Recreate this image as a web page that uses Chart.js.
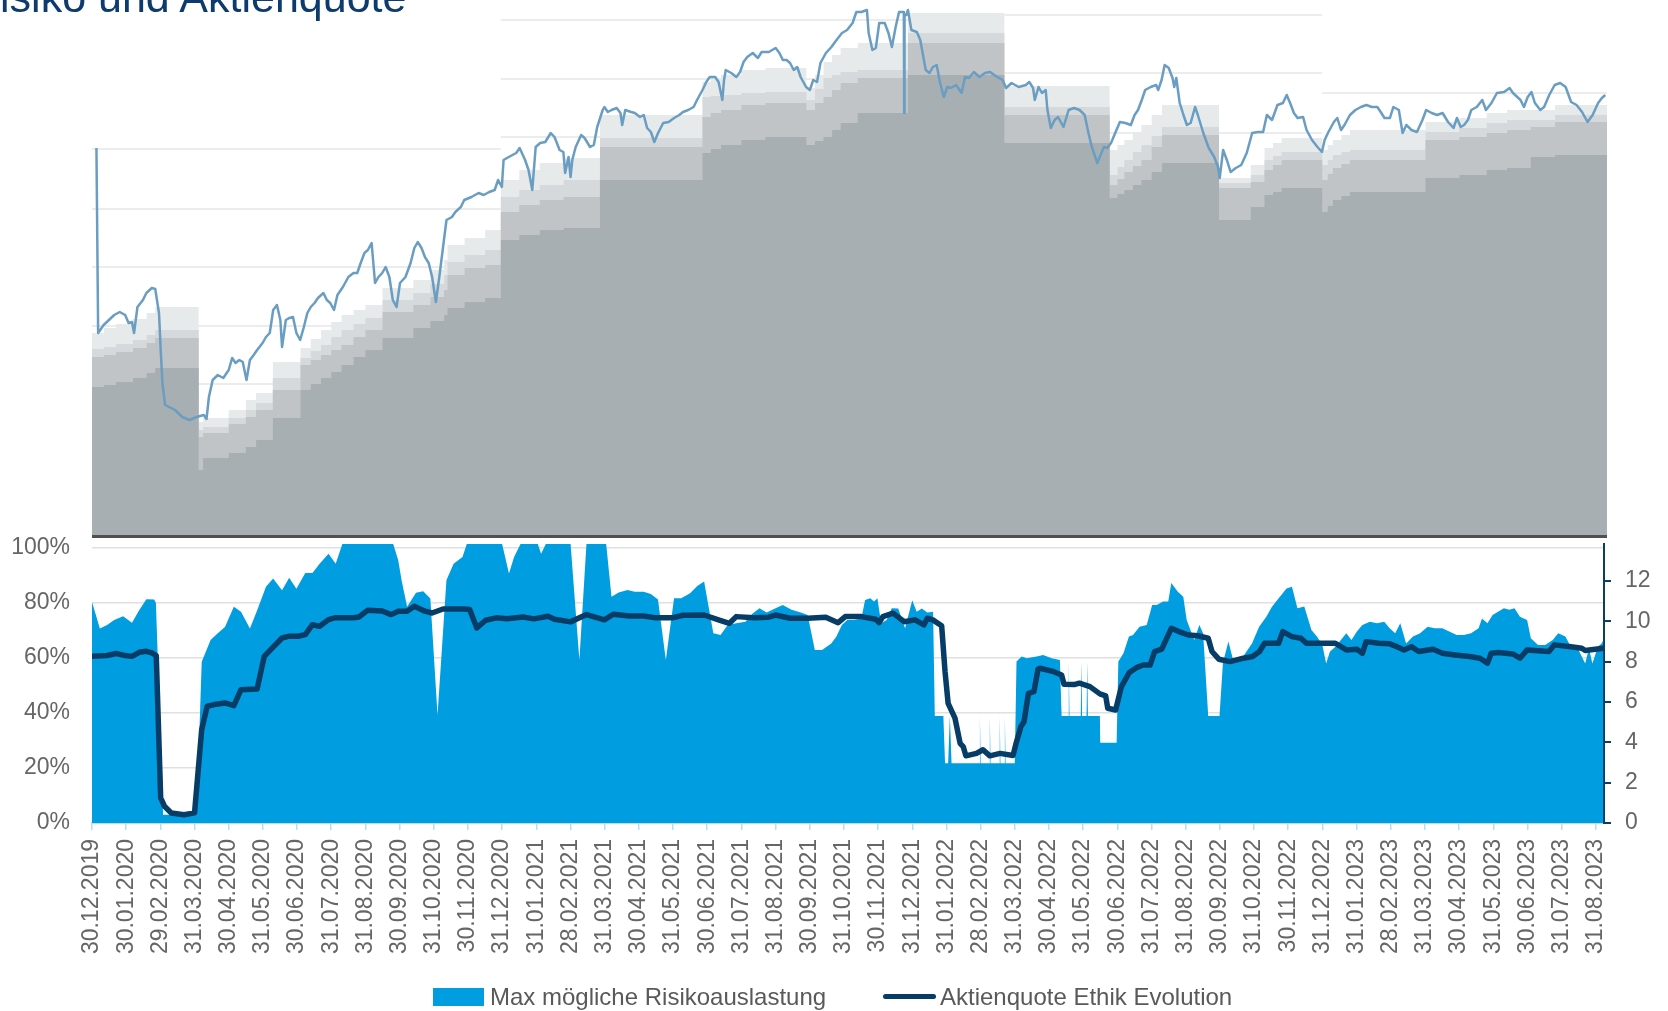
<!DOCTYPE html>
<html lang="de">
<head>
  <meta charset="UTF-8">
  <title>Risiko und Aktienquote</title>
  <style>
    body {
      margin: 0;
      background: #fff;
      font-family: 'Liberation Sans', Arial, sans-serif;
    }
    #wrap {
      position: relative;
      width: 1668px;
      height: 1011px;
      overflow: hidden;
    }
    #title {
      position: absolute;
      left: -31px;
      top: -24px;
      font-size: 43px;
      line-height: 43px;
      color: #0d3b6e;
      white-space: nowrap;
      z-index: 3;
    }
    #topBox {
      position: absolute;
      left: 92px;
      top: 0;
      width: 1515px;
      height: 537px;
    }
    #baseLine {
      position: absolute;
      left: 92px;
      top: 535px;
      width: 1515px;
      height: 3px;
      background: #505050;
    }
    #botBox {
      position: absolute;
      left: 0;
      top: 520px;
      width: 1668px;
      height: 491px;
    }
    .lg {
      position: absolute;
      font-size: 24px;
      line-height: 24px;
      color: #595959;
      white-space: nowrap;
    }
  </style>
  <script src="https://cdn.jsdelivr.net/npm/chart.js@4.4.1/dist/chart.umd.min.js"></script>
</head>
<body>
<div id="wrap">
  <div id="title">Risiko und Aktienquote</div>
  <div id="topBox"><canvas id="topChart"></canvas></div>
  <div id="baseLine"></div>
  <div id="botBox"><canvas id="botChart"></canvas></div>
  <div style="position:absolute;left:433px;top:988px;width:51px;height:18px;background:#009ee0"></div>
  <div class="lg" style="left:490px;top:985px">Max mögliche Risikoauslastung</div>
  <div style="position:absolute;left:883px;top:994px;width:53px;height:5px;border-radius:3px;background:#063c66"></div>
  <div class="lg" style="left:940px;top:985px">Aktienquote Ethik Evolution</div>
</div>

<script>
  // x values are months since 30.12.2019 (fractional = within the month)
  const monthLabels = ['30.12.2019','30.01.2020','29.02.2020','31.03.2020','30.04.2020','31.05.2020',
    '30.06.2020','31.07.2020','31.08.2020','30.09.2020','31.10.2020','30.11.2020','31.12.2020',
    '31.01.2021','28.02.2021','31.03.2021','30.04.2021','31.05.2021','30.06.2021','31.07.2021',
    '31.08.2021','30.09.2021','31.10.2021','30.11.2021','31.12.2021','31.01.2022','28.02.2022',
    '31.03.2022','30.04.2022','31.05.2022','30.06.2022','31.07.2022','31.08.2022','30.09.2022',
    '31.10.2022','30.11.2022','31.12.2022','31.01.2023','28.02.2023','31.03.2023','30.04.2023',
    '31.05.2023','30.06.2023','31.07.2023','31.08.2023'];

  // top panel: fund value (index units, no axis shown)
  const indexLine = [
    [0.13,389],[0.18,204],[0.34,212],[0.65,222],[0.81,225],[0.97,222],[1.07,214],[1.17,215],[1.23,204],
    [1.33,230],[1.49,237],[1.59,244],[1.75,249],[1.85,248],[1.96,224],[2.01,187],[2.06,154],[2.14,132],
    [2.43,127],[2.64,120],[2.85,117],[3.06,120],[3.27,122],[3.35,118],[3.42,140],[3.53,157],[3.68,162],
    [3.84,159],[4.00,167],[4.10,179],[4.20,174],[4.31,177],[4.41,175],[4.52,157],[4.62,177],[4.73,182],
    [4.83,187],[4.99,194],[5.09,200],[5.20,204],[5.30,227],[5.41,232],[5.51,217],[5.56,190],[5.67,217],
    [5.77,219],[5.88,220],[5.98,204],[6.09,197],[6.19,209],[6.30,224],[6.40,230],[6.51,234],[6.61,239],
    [6.77,244],[6.87,237],[6.97,234],[7.08,227],[7.18,242],[7.34,250],[7.50,260],[7.65,264],[7.76,264],
    [7.86,274],[7.97,284],[8.07,287],[8.18,294],[8.23,274],[8.28,254],[8.38,260],[8.49,264],[8.59,270],
    [8.70,260],[8.80,237],[8.91,230],[9.01,254],[9.17,260],[9.32,274],[9.43,289],[9.53,295],[9.64,289],
    [9.74,280],[9.85,274],[9.95,260],[10.06,235],[10.16,260],[10.27,290],[10.37,317],[10.53,320],
    [10.63,325],[10.79,330],[10.89,337],[11.10,340],[11.31,344],[11.46,342],[11.62,345],[11.78,347],
    [11.88,357],[11.99,350],[12.04,377],[12.14,379],[12.30,382],[12.41,384],[12.51,389],[12.67,377],
    [12.77,367],[12.88,347],[12.98,390],
    [13.11,394],[13.26,395],[13.42,404],[13.53,400],[13.68,387],[13.79,385],[13.84,364],[13.94,380],
    [14.00,360],[14.05,377],[14.15,390],[14.31,402],[14.41,399],[14.57,390],[14.68,392],[14.78,410],
    [14.94,427],[14.99,430],[15.09,425],[15.20,427],[15.35,429],[15.46,424],[15.51,412],[15.60,427],
    [15.77,425],[15.88,424],[16.03,420],[16.14,422],[16.24,409],[16.35,405],[16.45,395],[16.56,404],
    [16.71,414],[16.87,415],[17.03,419],[17.18,422],[17.29,425],[17.44,427],[17.60,430],[17.70,437],
    [17.86,447],[17.97,455],[18.07,460],[18.23,460],[18.33,455],[18.44,437],[18.49,457],[18.54,467],
    [18.70,464],[18.85,460],[18.96,465],[19.06,475],[19.17,480],[19.33,484],[19.48,479],[19.59,485],
    [19.80,485],[20.00,489],[20.11,484],[20.21,477],[20.32,477],[20.42,474],[20.53,467],[20.63,470],
    [20.73,460],[20.89,450],[21.00,447],[21.10,457],[21.21,455],[21.31,474],[21.47,484],[21.63,490],
    [21.78,497],[21.94,504],[22.09,507],[22.25,514],[22.36,525],[22.51,525],[22.67,527],[22.72,504],
    [22.83,487],[22.93,489],[23.03,514],[23.19,514],[23.30,504],[23.40,490],[23.51,510],[23.61,525],
    [23.71,525],[23.75,525],[23.76,424],[23.77,522],[23.82,522],[23.87,527],[23.97,507],[24.13,505],
    [24.23,497],[24.39,467],[24.50,464],[24.60,470],[24.71,472],[24.81,454],[24.92,440],[25.02,450],
    [25.12,449],[25.28,452],[25.44,444],[25.54,460],[25.65,459],[25.80,465],[25.96,460],[26.12,464],
    [26.27,465],[26.48,460],[26.64,457],[26.74,449],[26.90,454],[27.11,450],[27.32,452],[27.42,455],
    [27.53,449],[27.58,437],[27.69,450],[27.79,444],[27.90,447],[27.95,427],[28.05,409],[28.16,417],
    [28.26,420],[28.42,410],[28.57,427],[28.73,429],[28.89,427],[29.04,422],[29.15,404],[29.25,390],
    [29.41,374],
    [29.60,390],[29.70,389],[29.81,394],[29.97,407],[30.07,415],[30.23,414],[30.39,412],[30.50,422],
    [30.60,427],[30.71,437],[30.81,447],[30.97,450],[31.13,452],[31.19,447],[31.29,457],[31.38,472],
    [31.50,469],[31.61,459],[31.66,450],[31.72,459],[31.82,434],[31.93,422],[32.03,412],[32.14,414],
    [32.27,430],[32.35,422],[32.51,404],[32.67,389],[32.83,380],[32.94,370],[32.99,359],[33.09,387],
    [33.20,377],[33.31,365],[33.46,369],[33.62,372],[33.78,384],[33.94,404],[34.10,405],[34.26,405],
    [34.37,422],[34.52,417],[34.68,432],[34.84,434],[34.95,442],[35.05,434],[35.16,424],[35.27,419],
    [35.43,420],[35.53,407],[35.69,397],[35.85,390],[35.98,385],[36.06,397],[36.17,405],[36.33,415],
    [36.43,419],[36.54,407],[36.64,412],[36.80,422],[36.96,427],[37.12,430],[37.28,432],[37.44,430],
    [37.60,430],[37.70,425],[37.81,419],[37.97,419],[38.07,430],[38.23,427],[38.34,404],[38.45,412],
    [38.60,407],[38.76,405],[38.92,417],[39.03,427],[39.19,424],[39.35,422],[39.51,424],[39.67,415],
    [39.83,409],[39.93,419],[40.04,410],[40.14,412],[40.25,417],[40.35,427],[40.51,430],[40.67,437],
    [40.78,427],[40.94,434],[41.10,444],[41.31,445],[41.47,449],[41.57,444],[41.79,437],[41.89,430],
    [42.00,440],[42.11,445],[42.21,434],[42.37,427],[42.48,430],[42.63,442],[42.79,452],[42.95,454],
    [43.11,450],[43.27,435],[43.43,432],[43.59,425],[43.75,415],[43.90,422],[44.06,434],[44.17,439],
    [44.27,442]
  ];

  // stepped risk bands (value holds until the next step)
  const bandT = [0,0.35,0.7,1.2,1.6,1.85, 3.12,3.25,4.0,4.5,4.8,5.29, 6.1,6.4,6.7,7.0,7.3,7.65,8.0,8.5,9.4,9.9,10.3,10.4,10.9,11.5,
    11.96,12.5,13.1,13.8, 14.86, 17.86,18.1,18.4,19.0,19.7, 20.9,21.15,21.4,21.65,21.9,22.4, 23.87, 26.69,
    29.77,30.0,30.2,30.45,30.7,31.0,31.3, 32.97,33.9,34.3,34.55,34.8, 35.99,36.15,36.3,36.55,36.8, 39.01,40.0,40.8,41.4, 42.09,42.8,44.32];
  const bandOuter = [204,209,213,218,224,230, 115,119,127,137,144,175, 189,198,207,215,222,227,232,249,257,267,277,292,299,307,
    357,367,374,379, 422, 455,458,462,467,469, 449,462,475,482,489,494, 524, 451,
    387,392,397,405,412,422,432, 359,372,389,394,399, 387,392,397,402,407, 415,419,424,427, 427,432,432];
  const bandLight = [188,190,193,197,202,207, 107,110,119,127,134,159, 179,186,192,200,207,213,219,237,244,253,262,275,282,287,
    340,347,352,357, 399, 440,441,442,444,445, 437,448,459,462,465,467, 504, 430,
    362,370,377,385,392,401,410, 354,362,377,381,385, 372,377,382,385,387, 405,409,414,417, 417,422,422];
  const bandMid = [180,182,185,189,194,199, 100,104,113,120,127,147, 172,177,182,187,192,200,207,225,232,240,247,262,269,272,
    325,332,337,340, 390, 420,424,427,432,434, 427,434,440,447,454,459, 494, 422,
    352,358,365,371,377,390,402, 349,355,367,372,377, 357,363,369,373,377, 397,400,404,407, 410,415,415];
  const bandCore = [150,152,155,159,164,169, 67,79,84,90,97,119, 147,153,159,165,172,180,187,199,209,216,222,229,235,239,
    297,302,307,309, 357, 384,388,392,397,400, 392,396,400,407,414,424, 462, 394,
    339,343,347,352,357,365,374, 317,330,342,345,349, 325,331,337,341,345, 359,362,367,369, 380,382,382];

  // top panel gridlines, one set per yearly section
  const gridFrom = [0, 11.96, 26.69, 35.99];
  const gridTo = [11.96, 26.69, 35.99, 44.32];
  const gridLevels = [[388,328,270,211,153], [517,458,400], [522,464,404], [444]];

  // bottom panel: max possible risk usage in %
  const riskArea = [
    [0,80.4],[0.23,70.7],[0.44,72],[0.65,73.8],[0.91,75.2],[1.17,72.8],[1.38,77.4],[1.59,81.4],[1.82,81.3],
    [1.87,80],[2.08,3],[3.06,3],[3.21,58.6],[3.47,66.5],[3.68,69],[3.89,71.3],[4.15,78.6],[4.36,76.8],
    [4.62,70.7],[4.83,77.3],[5.09,85.9],[5.30,88.9],[5.56,84.6],[5.77,89.2],[5.98,85.2],[6.24,90.9],
    [6.45,90.9],[6.66,94.3],[6.92,97.9],[7.13,94.3],[7.34,102],[8.80,102],[8.96,95.5],[9.06,88.2],
    [9.22,78.6],[9.48,83.7],[9.69,84.3],[9.90,81.6],[10.11,39.3],[10.37,88.3],[10.58,94.3],[10.84,96.7],
    [10.98,102],[11.99,102],[12.20,90.7],[12.35,96.7],[12.56,102],[13.03,102],[13.14,97.9],[13.30,102],
    [14.00,102],[14.26,59.3],[14.47,102],[15.04,102],[15.20,82.3],[15.41,83.8],[15.67,84.7],[15.88,84.1],
    [16.14,84.1],[16.35,83.3],[16.56,81.3],[16.79,59.3],[17.03,81.7],[17.24,81.7],[17.50,83.5],[17.71,86.2],
    [17.91,87.8],[18.18,69],[18.39,68.4],[18.60,72],[18.85,72.6],[19.12,73.2],[19.33,76.2],[19.53,78.1],
    [19.74,76.5],[20.00,78.1],[20.21,79.3],[20.47,77.5],[20.74,76.5],[20.94,75.6],[21.15,62.9],[21.36,62.9],
    [21.63,65.3],[21.78,67.8],[21.94,72],[22.10,73.8],[22.30,73.8],[22.51,74.4],[22.62,81.1],[22.77,81.7],
    [22.88,80.5],[22.98,81.7],[23.09,72.6],[23.25,73.8],[23.40,78.1],[23.59,78],[23.79,70.8],[24.00,81],
    [24.13,76.8],[24.28,78],[24.44,76.5],[24.61,76.8],[24.66,38.9],[24.91,38.9],[24.96,21.7],[25.05,21.7],
    [25.10,38.9],[25.15,21.7],[25.96,21.7],[25.98,38.9],[26.00,21.7],[26.25,21.7],[26.27,38.9],[26.29,21.7],
    [26.54,21.7],[26.56,38.9],[26.58,21.7],[26.69,21.7],[26.71,38.9],[26.73,21.7],[27.00,21.7],[27.05,58.7],
    [27.20,60.5],[27.35,59.9],[27.64,60.5],[27.83,61.1],[28.08,59.9],[28.32,59.3],[28.37,38.9],[28.56,38.9],
    [28.58,58.7],[28.60,38.9],[28.93,38.9],[28.95,58.7],[28.97,38.9],[29.10,38.9],[29.12,58.7],[29.14,38.9],
    [29.49,38.9],[29.50,29.2],[29.98,29.2],[30.03,58.7],[30.18,61.7],[30.34,67.8],[30.46,68.4],[30.65,71.4],
    [30.86,72],[31.02,79.3],[31.15,79.3],[31.34,80.5],[31.49,80.5],[31.58,87.3],[31.77,84.1],[31.93,82.3],
    [32.03,73.8],[32.25,66.5],[32.40,72],[32.51,69],[32.66,38.9],[32.99,38.9],[33.09,58.3],[33.25,66],
    [33.40,58.7],[33.68,60.5],[33.94,65.3],[34.15,71.4],[34.36,75],[34.52,78.5],[34.68,81.1],[34.84,83.5],
    [34.95,85.3],[35.11,85.9],[35.27,78.1],[35.47,78.7],[35.68,70.2],[35.84,67.8],[36.00,64.7],[36.11,58],
    [36.22,62.3],[36.38,64.1],[36.54,66.5],[36.70,69],[36.85,66.5],[37.01,69.6],[37.17,72],[37.39,73.2],
    [37.60,72.6],[37.81,73.2],[37.97,70.8],[38.13,69],[38.28,72.6],[38.45,65.3],[38.65,67.8],[38.86,69],
    [39.08,71.4],[39.29,70.8],[39.51,70.8],[39.71,69.6],[39.93,68.4],[40.14,68.4],[40.35,69],[40.57,70.8],
    [40.67,74.4],[40.83,72.6],[40.98,75.6],[41.14,76.8],[41.31,78.1],[41.47,77.5],[41.62,78.1],[41.78,75],
    [41.99,73.8],[42.10,67.2],[42.31,64.7],[42.52,64.7],[42.74,66.5],[42.90,69],[43.11,67.8],[43.27,64.1],
    [43.47,63.5],[43.69,58],[43.80,63.5],[43.90,58],[44.06,64.1],[44.17,65.3],[44.22,66.5]
  ];

  // bottom panel: equity quota (right axis)
  const quoteLine = [
    [0,8.26],[0.44,8.3],[0.71,8.4],[0.97,8.3],[1.17,8.26],[1.38,8.46],[1.59,8.51],[1.75,8.43],[1.88,8.3],
    [2.01,1.24],[2.12,0.83],[2.32,0.5],[2.69,0.41],[3.00,0.5],[3.21,4.63],[3.37,5.79],[3.58,5.87],[3.89,5.95],
    [4.15,5.82],[4.36,6.61],[4.83,6.64],[5.04,8.26],[5.25,8.63],[5.56,9.17],[5.77,9.26],[6.03,9.26],
    [6.24,9.34],[6.45,9.83],[6.66,9.75],[6.92,10.08],[7.13,10.18],[7.65,10.17],[7.81,10.21],[8.07,10.55],
    [8.49,10.51],[8.75,10.33],[8.96,10.5],[9.22,10.5],[9.43,10.74],[9.74,10.5],[9.95,10.41],[10.27,10.61],
    [10.89,10.61],[11.05,10.58],[11.26,9.67],[11.52,10.05],[11.83,10.17],[12.14,10.12],[12.61,10.21],
    [12.93,10.12],[13.34,10.25],[13.53,10.1],[14.0,9.97],[14.47,10.33],[14.99,10.07],[15.25,10.35],
    [15.72,10.26],[16.14,10.26],[16.45,10.18],[16.98,10.17],[17.29,10.3],[17.91,10.31],[18.33,10.07],
    [18.65,9.9],[18.85,10.23],[19.38,10.18],[19.8,10.2],[20.0,10.31],[20.42,10.15],[20.94,10.15],
    [21.47,10.2],[21.83,9.93],[22.04,10.23],[22.51,10.23],[22.93,10.1],[23.03,9.93],[23.14,10.23],
    [23.44,10.4],[23.76,9.98],[24.08,10.07],[24.34,9.82],[24.44,10.15],[24.6,10.07],[24.86,9.78],
    [24.96,7.5],[25.05,5.93],[25.25,5.2],[25.40,3.95],[25.49,3.79],[25.57,3.33],[25.88,3.45],[26.07,3.63],
    [26.27,3.33],[26.57,3.45],[26.95,3.35],[27.03,3.9],[27.18,4.78],[27.27,5.02],[27.40,6.43],[27.56,6.51],
    [27.68,7.62],[27.74,7.67],[28.14,7.5],[28.37,7.34],[28.44,6.88],[28.74,6.86],[28.89,6.93],[29.2,6.76],
    [29.49,6.4],[29.66,6.3],[29.72,5.69],[29.95,5.6],[30.12,6.76],[30.35,7.46],[30.56,7.7],[30.76,7.83],
    [30.96,7.83],[31.09,8.5],[31.3,8.62],[31.42,9.07],[31.58,9.65],[31.8,9.49],[32.08,9.32],[32.35,9.28],
    [32.66,9.16],[32.77,8.5],[32.97,8.12],[33.3,8.0],[33.69,8.17],[33.96,8.25],[34.16,8.5],[34.31,8.91],
    [34.72,8.91],[34.84,9.49],[35.11,9.24],[35.37,9.16],[35.53,8.91],[35.84,8.91],[36.38,8.91],[36.70,8.58],
    [37.01,8.61],[37.17,8.41],[37.28,8.99],[37.65,8.91],[37.97,8.88],[38.18,8.74],[38.39,8.58],[38.6,8.74],
    [38.82,8.5],[39.24,8.61],[39.51,8.41],[39.88,8.33],[40.3,8.25],[40.61,8.17],[40.83,7.92],[40.94,8.41],
    [41.14,8.45],[41.57,8.38],[41.78,8.17],[41.99,8.58],[42.2,8.55],[42.63,8.5],[42.79,8.83],[43.27,8.74],
    [43.59,8.66],[43.69,8.55],[44.22,8.66]
  ];

  const FONT = "'Liberation Sans', Arial, sans-serif";
  Chart.defaults.font.family = FONT;

  const pairs = arr => arr.map(p => ({ x: p[0], y: p[1] }));
  const stepPts = vals => bandT.map((t, i) => ({ x: t, y: vals[i] }));

  function band(vals, color) {
    return { data: stepPts(vals), stepped: true, fill: 'origin', backgroundColor: color, borderWidth: 0, pointRadius: 0 };
  }

  const gridSets = [];
  gridLevels.forEach((levels, s) => {
    levels.forEach(lv => {
      gridSets.push({
        data: [{ x: gridFrom[s], y: lv }, { x: gridTo[s], y: lv }],
        borderColor: '#d9d9d9', borderWidth: 1.2, pointRadius: 0, fill: false
      });
    });
  });

  new Chart(document.getElementById('topChart'), {
    type: 'line',
    data: {
      datasets: [
        { data: pairs(indexLine), borderColor: '#6a9dc2', borderWidth: 2.5, pointRadius: 0, fill: false,
          borderJoinStyle: 'round' },
        band(bandCore, '#a8afb2'),
        band(bandMid, '#c0c4c7'),
        band(bandLight, '#d6d9db'),
        band(bandOuter, '#e7eaeb'),
        ...gridSets
      ]
    },
    options: {
      responsive: true,
      maintainAspectRatio: false,
      animation: false,
      events: [],
      layout: { padding: 0 },
      plugins: { legend: { display: false }, tooltip: { enabled: false } },
      elements: { line: { tension: 0 } },
      scales: {
        x: { type: 'linear', min: 0, max: 44.32, display: false },
        y: { min: 0, max: 537, display: false }
      }
    }
  });

  const tickFont = { family: FONT, size: 23 };

  // keep the plot box fixed: no extra label padding from the vertical axes
  function fixWidth(w) {
    return s => { s.width = w; s.paddingTop = 0; s.paddingBottom = 0; };
  }

  new Chart(document.getElementById('botChart'), {
    type: 'line',
    data: {
      datasets: [
        { label: 'Aktienquote Ethik Evolution', data: pairs(quoteLine), yAxisID: 'y1',
          borderColor: '#063c66', borderWidth: 5.5, pointRadius: 0, fill: false,
          borderCapStyle: 'round', borderJoinStyle: 'round' },
        { label: 'Max mögliche Risikoauslastung', data: pairs(riskArea), yAxisID: 'y',
          backgroundColor: '#009ee0', borderWidth: 0, pointRadius: 0, fill: 'origin' }
      ]
    },
    options: {
      responsive: true,
      maintainAspectRatio: false,
      animation: false,
      events: [],
      layout: { padding: { top: 24, left: 0, right: 0, bottom: 0 } },
      plugins: { legend: { display: false }, tooltip: { enabled: false } },
      elements: { line: { tension: 0 } },
      scales: {
        x: {
          type: 'linear', min: 0, max: 44.24,
          grid: { drawOnChartArea: false, drawTicks: true, tickLength: 7, color: '#b8def4', lineWidth: 1.5 },
          border: { display: true, color: '#b8def4', width: 2 },
          ticks: {
            stepSize: 1, autoSkip: false, includeBounds: false, minRotation: 90, maxRotation: 90,
            padding: 9, color: '#666666', font: tickFont,
            callback: v => {
              const i = Math.round(v);
              return Math.abs(v - i) < 1e-6 ? (monthLabels[i] || '') : '';
            }
          },
          afterFit: s => { s.height = 188; s.paddingLeft = 0; s.paddingRight = 0; }
        },
        y: {
          position: 'left', min: 0, max: 101.45,
          grid: { color: '#e0e0e0', lineWidth: 1.5, drawTicks: false },
          border: { display: false },
          ticks: { stepSize: 20, includeBounds: false, padding: 22, color: '#666666', font: tickFont,
            callback: v => v + '%' },
          afterFit: fixWidth(92)
        },
        y1: {
          position: 'right', min: 0, max: 13.83,
          grid: { drawOnChartArea: false, drawTicks: true, tickLength: 7, color: '#0b3d66', lineWidth: 2 },
          border: { display: true, color: '#0b3d66', width: 2 },
          ticks: { stepSize: 2, includeBounds: false, padding: 14, color: '#666666', font: tickFont },
          afterFit: fixWidth(64)
        }
      }
    }
  });
</script>
</body>
</html>
